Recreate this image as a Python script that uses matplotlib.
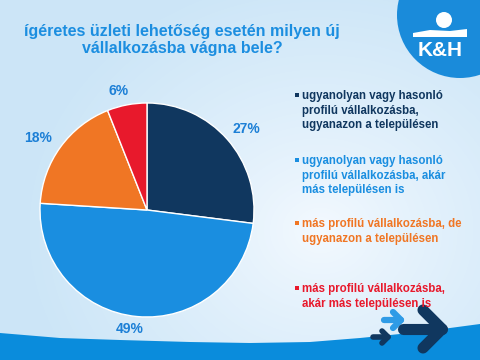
import numpy as np
import matplotlib
matplotlib.use("Agg")
import matplotlib.pyplot as plt
from matplotlib.patches import Circle, Polygon

# data
values = [27, 49, 18, 6]
labels = [
    "ugyanolyan vagy hasonló\nprofilú vállalkozásba,\nugyanazon a településen",
    "ugyanolyan vagy hasonló\nprofilú vállalkozásba, akár\nmás településen is",
    "más profilú vállalkozásba, de\nugyanazon a településen",
    "más profilú vállalkozásba,\nakár más településen is",
]
colors = ["#10375F", "#1A8EE0", "#F07624", "#E8192C"]
title = "ígéretes üzleti lehetőség esetén milyen új\nvállalkozásba vágna bele?"

# label placement (radius factor, angle nudge in degrees)
lab_dist = [1.20, 1.12, 1.22, 1.14]
lab_rot = [-2.4, -2.7, 2.6, 2.9]

plt.rcParams['font.family'] = ['Liberation Sans', 'DejaVu Sans']

W, H = 480, 360
fig = plt.figure(figsize=(W / 100, H / 100), dpi=100)

# background
bg = fig.add_axes([0, 0, 1, 1])
bg.set_xlim(0, W)
bg.set_ylim(H, 0)
bg.axis('off')
yy, xx = np.mgrid[0:H, 0:W]
d = np.sqrt(((xx - 320) / 300.0) ** 2 + ((yy - 230) / 260.0) ** 2)
d = np.clip(d, 0, 1) ** 0.8
c0 = np.array([0.96, 0.98, 1.0])
c1 = np.array([0.80, 0.90, 0.97])
img = c0[None, None, :] * (1 - d[..., None]) + c1[None, None, :] * d[..., None]
bg.imshow(img, extent=[0, W, H, 0], aspect='auto', zorder=0)

# bottom band
bx = np.array([0, 60, 120, 190, 250, 310, 360, 420, 480])
by = np.array([333, 338, 340, 342, 343, 342, 338, 332, 324])
bg.add_patch(Polygon(np.column_stack([np.r_[bx, 480, 0], np.r_[by, 360, 360]]),
                     closed=True, color="#0A8CDC", zorder=1, lw=0))

# arrows
def arrow(x0, x1, y, h, col, lw):
    bg.plot([x0, x1], [y, y], color=col, lw=lw, solid_capstyle='round', zorder=3)
    bg.plot([x1 - h, x1, x1 - h], [y - h, y, y + h], color=col, lw=lw,
            solid_capstyle='round', solid_joinstyle='round', zorder=3)

arrow(384, 401, 320, 8, "#2F9BE6", 4.5)
arrow(373, 388, 337, 6, "#10375F", 4)
arrow(403, 442, 329, 19, "#10375F", 8)

# logo
bg.add_patch(Circle((460, 15), 63, color="#1A8BDA", zorder=2, lw=0))
bg.add_patch(Circle((444, 20), 8, color="white", zorder=3, lw=0))
bg.add_patch(Polygon([[413, 33], [430, 30], [450, 31], [467, 29], [467, 37], [413, 37]],
                     closed=True, color="white", zorder=3, lw=0))
bg.text(440, 51, "K&H", color="white", fontsize=15, fontweight='bold',
        ha='center', va='center', zorder=4)

# title
bg.text(182, 40, title, color="#1C8EE0", fontsize=11.5, fontweight='bold',
        ha='center', va='center', linespacing=1.2, zorder=4)

# pie
ax = fig.add_axes([40 / W, 1 - 317 / H, 214 / W, 214 / H])
wedges, texts = ax.pie(values, colors=colors, startangle=90, counterclock=False,
                       wedgeprops=dict(edgecolor='white', linewidth=1))
for w, v, r, dr in zip(wedges, values, lab_dist, lab_rot):
    ang = np.deg2rad((w.theta1 + w.theta2) / 2 + dr)
    ax.text(r * np.cos(ang), r * np.sin(ang), f"{v}%", color="#1C7FD6",
            fontsize=10, fontweight='bold', ha='center', va='center')
ax.set_xlim(-1, 1)
ax.set_ylim(-1, 1)
ax.set_aspect('equal')

# legend
tops = [96, 161, 224, 289]
for lab, col, y in zip(labels, colors, tops):
    bg.add_patch(Polygon([[295, y - 3], [299, y - 3], [299, y + 1], [295, y + 1]],
                         closed=True, color=col, zorder=4, lw=0))
    bg.text(302, y - 6, lab, color=col, fontsize=8.3, fontweight='bold',
            ha='left', va='top', linespacing=1.3, zorder=4)

fig.savefig("out.png", dpi=100)
